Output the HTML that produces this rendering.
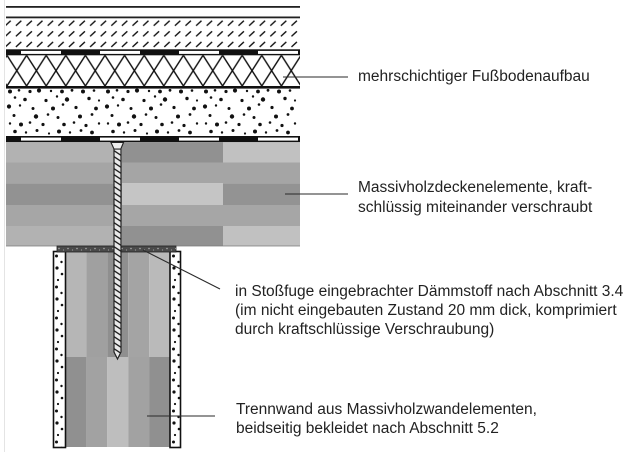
<!DOCTYPE html>
<html><head><meta charset="utf-8"><style>
html,body{margin:0;padding:0;background:#fff;}
svg{display:block;}
text{font-family:"Liberation Sans",Arial,sans-serif;font-size:15.5px;fill:#222;}
</style></head><body>
<svg width="637" height="452" viewBox="0 0 637 452" xmlns="http://www.w3.org/2000/svg">
<defs>
<pattern id="hatch" x="3.5" y="18.5" width="10.6" height="10.6" patternUnits="userSpaceOnUse">
<line x1="1.8" y1="7.2" x2="7.2" y2="2.2" stroke="#111" stroke-width="1.4"/>
</pattern>
<pattern id="cross" x="7" y="55.3" width="19.6" height="30.7" patternUnits="userSpaceOnUse">
<line x1="0" y1="0" x2="19.6" y2="30.7" stroke="#111" stroke-width="1.4"/>
<line x1="19.6" y1="0" x2="0" y2="30.7" stroke="#111" stroke-width="1.4"/>
</pattern>
<pattern id="dots" x="6" y="88.5" width="98" height="48" patternUnits="userSpaceOnUse">
<g fill="#111">
<circle cx="4" cy="3" r="2.0"/><circle cx="13" cy="1.8" r="1.3"/><circle cx="24" cy="3" r="1.6"/><circle cx="33" cy="2" r="2.1"/><circle cx="45" cy="2.5" r="1.2"/><circle cx="56" cy="3" r="1.9"/><circle cx="66" cy="1.8" r="1.4"/><circle cx="77" cy="3" r="2.0"/><circle cx="88" cy="2" r="1.3"/>
<circle cx="9" cy="9" r="1.3"/><circle cx="19" cy="11" r="1.8"/><circle cx="40" cy="12" r="1.6"/><circle cx="51" cy="8" r="1.2"/><circle cx="61" cy="11" r="2.2"/><circle cx="83" cy="10" r="1.7"/><circle cx="93" cy="12" r="1.1"/>
<circle cx="3" cy="18" r="2.1"/><circle cx="14" cy="17" r="1.2"/><circle cx="27" cy="20" r="1.5"/><circle cx="47" cy="20" r="2.0"/><circle cx="57" cy="16" r="1.3"/><circle cx="70" cy="19" r="1.6"/><circle cx="90" cy="20" r="1.9"/>
<circle cx="8" cy="27" r="1.5"/><circle cx="30" cy="28" r="2.2"/><circle cx="42" cy="26" r="1.3"/><circle cx="52" cy="29" r="1.5"/><circle cx="74" cy="28" r="2.0"/><circle cx="86" cy="26" r="1.4"/>
<circle cx="4" cy="35" r="1.2"/><circle cx="15" cy="36" r="2.0"/><circle cx="24" cy="34" r="1.3"/><circle cx="37" cy="36" r="1.6"/><circle cx="58" cy="36" r="1.8"/><circle cx="68" cy="34" r="1.3"/><circle cx="80" cy="37" r="1.6"/><circle cx="93" cy="35" r="1.2"/>
<circle cx="9" cy="43" r="1.8"/><circle cx="20" cy="44" r="1.2"/><circle cx="31" cy="42" r="1.5"/><circle cx="43" cy="45" r="1.1"/><circle cx="53" cy="43" r="2.0"/><circle cx="64" cy="44" r="1.2"/><circle cx="75" cy="42" r="1.4"/><circle cx="86" cy="44" r="1.9"/>
</g>
</pattern>
<pattern id="clad" x="53" y="252" width="13" height="31" patternUnits="userSpaceOnUse">
<g fill="#111">
<circle cx="3.5" cy="4" r="1.5"/><circle cx="8.5" cy="10" r="1.2"/><circle cx="4" cy="16" r="1.6"/><circle cx="9" cy="22" r="1.3"/><circle cx="5" cy="28" r="1.1"/>
</g>
</pattern>
<pattern id="speck" x="57" y="246" width="9" height="6" patternUnits="userSpaceOnUse">
<circle cx="2" cy="2.5" r="0.8" fill="#aaa"/><circle cx="6.5" cy="4" r="0.6" fill="#999"/>
</pattern>
<clipPath id="shaft"><path d="M114 149 L114 352 L117.5 359 L121 352 L121 149 Z"/></clipPath>
</defs>

<line x1="4.5" y1="0" x2="4.5" y2="452" stroke="#e4e4e4" stroke-width="1"/>

<rect x="6" y="6" width="294" height="1.8" fill="#222"/>
<rect x="6" y="16.5" width="294" height="1.8" fill="#222"/>
<rect x="6" y="19" width="294" height="29.5" fill="url(#hatch)"/>
<rect x="6" y="49.3" width="294" height="6" fill="#111"/>
<g fill="#fff"><rect x="21" y="50.9" width="40" height="3"/><rect x="100" y="50.9" width="40" height="3"/><rect x="179" y="50.9" width="40" height="3"/><rect x="258" y="50.9" width="40" height="3"/></g>
<rect x="6" y="55.3" width="294" height="30.7" fill="url(#cross)"/>
<rect x="6" y="86" width="294" height="2.6" fill="#111"/>
<rect x="6" y="88.6" width="294" height="47.4" fill="url(#dots)"/>
<rect x="6" y="136" width="294" height="6.2" fill="#111"/>
<g fill="#fff"><rect x="21" y="137.6" width="40" height="3"/><rect x="100" y="137.6" width="40" height="3"/><rect x="179" y="137.6" width="40" height="3"/><rect x="258" y="137.6" width="40" height="3"/></g>

<rect x="6" y="142.2" width="116" height="20.3" fill="#b2b2b2"/>
<rect x="122" y="142.2" width="101" height="20.3" fill="#919191"/>
<rect x="223" y="142.2" width="77" height="20.3" fill="#c1c1c1"/>
<rect x="6" y="162.5" width="294" height="20.8" fill="#a5a5a5"/>
<rect x="6" y="183.3" width="116" height="21.7" fill="#929292"/>
<rect x="122" y="183.3" width="101" height="21.7" fill="#c5c5c5"/>
<rect x="223" y="183.3" width="77" height="21.7" fill="#939393"/>
<rect x="6" y="205" width="294" height="21" fill="#a6a6a6"/>
<rect x="6" y="226" width="116" height="20" fill="#b2b2b2"/>
<rect x="122" y="226" width="101" height="20" fill="#919191"/>
<rect x="223" y="226" width="77" height="20" fill="#c1c1c1"/>
<line x1="6" y1="246" x2="300" y2="246" stroke="#7a7a7a" stroke-width="0.8"/>

<rect x="65.5" y="252" width="20.9" height="105" fill="#b6b6b6"/>
<rect x="86.4" y="252" width="20.9" height="105" fill="#a0a0a0"/>
<rect x="107.3" y="252" width="20.9" height="105" fill="#8f8f8f"/>
<rect x="128.2" y="252" width="20.9" height="105" fill="#a4a4a4"/>
<rect x="149.1" y="252" width="20.9" height="105" fill="#bababa"/>
<rect x="65.5" y="357" width="20.9" height="90" fill="#909090"/>
<rect x="86.4" y="357" width="20.9" height="90" fill="#a2a2a2"/>
<rect x="107.3" y="357" width="20.9" height="90" fill="#bebebe"/>
<rect x="128.2" y="357" width="20.9" height="90" fill="#a2a2a2"/>
<rect x="149.1" y="357" width="20.9" height="90" fill="#909090"/>

<rect x="53.5" y="251.5" width="12" height="196" fill="#fff"/>
<rect x="53.5" y="251.5" width="12" height="196" fill="url(#clad)" stroke="#111" stroke-width="1.6"/>
<rect x="170" y="251.5" width="10.5" height="196" fill="#fff"/>
<rect x="170" y="251.5" width="10.5" height="196" fill="url(#clad)" stroke="#111" stroke-width="1.6"/>

<rect x="57" y="246" width="119" height="6" fill="#4a4a4a" stroke="#222" stroke-width="0.8"/>
<rect x="57" y="246" width="119" height="6" fill="url(#speck)"/>

<path d="M114 149 L114 352 L117.5 359 L121 352 L121 149 Z" fill="#e8e8e8"/>
<g clip-path="url(#shaft)">
<path stroke="#222" stroke-width="1.3" fill="none" d="M113 150l9 6M113 156l9 6M113 162l9 6M113 168l9 6M113 174l9 6M113 180l9 6M113 186l9 6M113 192l9 6M113 198l9 6M113 204l9 6M113 210l9 6M113 216l9 6M113 222l9 6M113 228l9 6M113 234l9 6M113 240l9 6M113 246l9 6M113 252l9 6M113 258l9 6M113 264l9 6M113 270l9 6M113 276l9 6M113 282l9 6M113 288l9 6M113 294l9 6M113 300l9 6M113 306l9 6M113 312l9 6M113 318l9 6M113 324l9 6M113 330l9 6M113 336l9 6M113 342l9 6M113 348l9 6"/>
</g>
<path d="M114 149 L114 352 L117.5 359 L121 352 L121 149 Z" fill="none" stroke="#222" stroke-width="1.2"/>
<polygon points="111,142.5 123.5,142.5 120.8,149 114,149" fill="#eee" stroke="#222" stroke-width="1.1"/>

<g stroke="#2a2a2a" stroke-width="1.1">
<line x1="283" y1="77" x2="348" y2="77"/>
<line x1="285" y1="194" x2="348" y2="194"/>
<line x1="143" y1="250" x2="220" y2="289"/>
<line x1="147" y1="416" x2="215" y2="416"/>
</g>

<text x="358" y="81">mehrschichtiger Fußbodenaufbau</text>
<text x="358" y="192">Massivholzdeckenelemente, kraft-</text>
<text x="358" y="212">schlüssig miteinander verschraubt</text>
<text x="235" y="296">in Stoßfuge eingebrachter Dämmstoff nach Abschnitt 3.4</text>
<text x="235" y="315">(im nicht eingebauten Zustand 20 mm dick, komprimiert</text>
<text x="235" y="334">durch kraftschlüssige Verschraubung)</text>
<text x="236" y="414">Trennwand aus Massivholzwandelementen,</text>
<text x="236" y="433">beidseitig bekleidet nach Abschnitt 5.2</text>
</svg>
</body></html>
